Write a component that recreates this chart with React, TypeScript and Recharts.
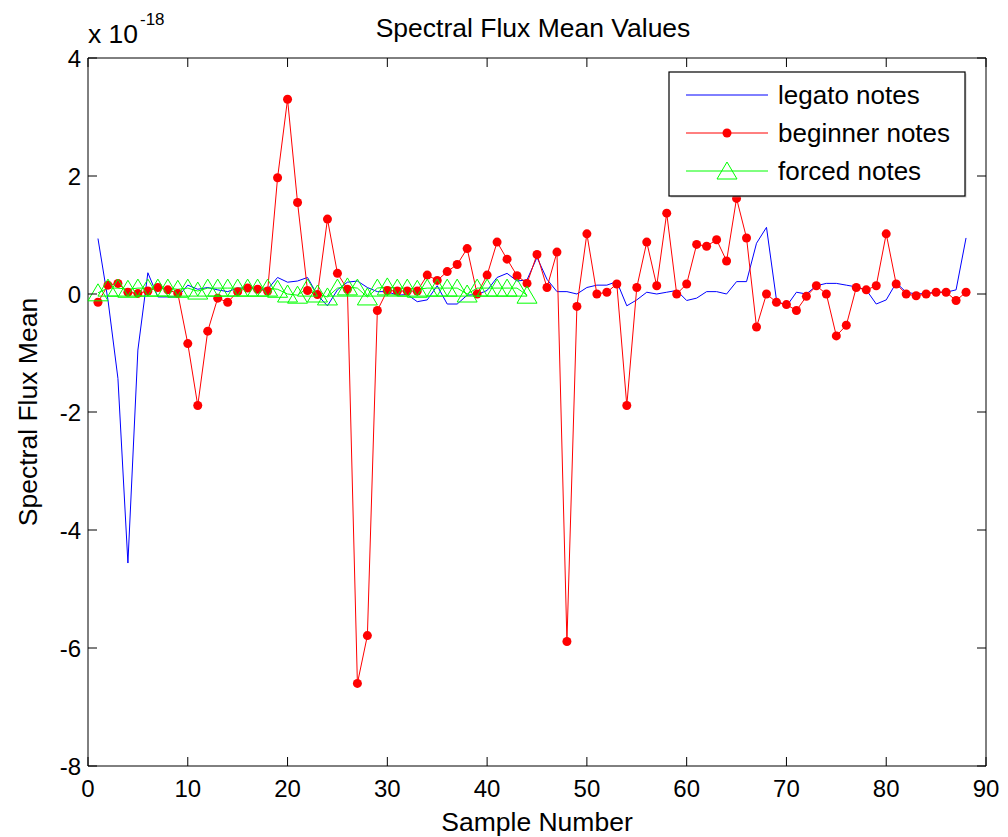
import { LineChart, Line, XAxis, YAxis, ReferenceLine } from 'recharts'

const W = 1008
const H = 837
const PLOT = { left: 88, top: 58, right: 986, bottom: 766 }
const FONT = '"Liberation Sans", Arial, sans-serif'

const xTicks = [0, 10, 20, 30, 40, 50, 60, 70, 80, 90]
const yTicks = [-8, -6, -4, -2, 0, 2, 4]

// values are x 10^-18
const legato = [
    0.94, -0.1, -1.43, -4.56, -0.95, 0.36, -0.05, -0.05, -0.05, 0.15,
    0.08, 0.11, 0.07, 0.04, 0.1, 0.1, 0.08, 0.08, 0.28, 0.2,
    0.22, 0.28, -0.02, -0.2, 0.07, 0.2, 0.22, 0.11, 0.04, 0.04,
    -0.02, -0.01, -0.13, -0.1, 0.14, -0.17, -0.17, -0.02, -0.01, 0.06,
    0.28, 0.35, 0.22, 0.24, 0.62, 0.25, 0.04, 0.04, 0.0, 0.11,
    0.15, 0.15, 0.21, -0.2, -0.1, 0.03, 0.0, 0.03, 0.06, -0.11,
    -0.07, 0.04, 0.04, 0.0, 0.21, 0.21, 0.86, 1.13, -0.1, -0.21,
    0.03, 0.0, 0.14, 0.18, 0.18, 0.15, 0.12, 0.07, -0.17, -0.1,
    0.19, 0.03, 0.0, 0.01, 0.03, 0.03, 0.07, 0.95,
]

const beginner = [
    -0.14, 0.15, 0.18, 0.03, 0.01, 0.05, 0.11, 0.07, 0.01, -0.84,
    -1.89, -0.63, -0.07, -0.14, 0.04, 0.1, 0.08, 0.05, 1.97, 3.3,
    1.55, 0.06, -0.01, 1.27, 0.35, 0.08, -6.6, -5.79, -0.28, 0.06,
    0.05, 0.05, 0.05, 0.32, 0.23, 0.38, 0.5, 0.77, 0.0, 0.32,
    0.88, 0.59, 0.31, 0.18, 0.67, 0.11, 0.71, -5.89, -0.21, 1.02,
    0.0, 0.03, 0.17, -1.89, 0.11, 0.88, 0.14, 1.37, 0.0, 0.17,
    0.84, 0.81, 0.92, 0.56, 1.62, 0.95, -0.56, 0.0, -0.14, -0.18,
    -0.28, -0.04, 0.14, 0.0, -0.71, -0.53, 0.11, 0.07, 0.14, 1.02,
    0.17, 0.0, -0.03, 0.0, 0.03, 0.03, -0.11, 0.03,
]

const forced = [
    0.02, 0.1, 0.1, 0.08, 0.1, 0.1, 0.1, 0.1, 0.08, 0.1,
    0.05, 0.1, 0.1, 0.1, 0.1, 0.1, 0.1, 0.1, 0.08, 0.0,
    -0.02, 0.1, 0.0, -0.05, 0.1, 0.12, 0.1, -0.05, 0.1, 0.12,
    0.1, 0.1, 0.08, 0.1, 0.1, 0.1, 0.1, 0.0, 0.1, 0.1,
    0.1, 0.1, 0.1, -0.02,
]

const data = legato.map((v, i) => ({
    x: i + 1,
    legato: v,
    beginner: beginner[i],
    forced: i < forced.length ? forced[i] : undefined,
}))

const TICK_LEN = 9

function XTick(props: any) {
    const cx = props.payload.coordinate
    return (
        <g>
            <line x1={cx} x2={cx} y1={PLOT.bottom} y2={PLOT.bottom - TICK_LEN} stroke="#000" />
            <line x1={cx} x2={cx} y1={PLOT.top} y2={PLOT.top + TICK_LEN} stroke="#000" />
            <text x={cx} y={PLOT.bottom + 31} textAnchor="middle" fontSize={24} fontFamily={FONT} fill="#000">
                {props.payload.value}
            </text>
        </g>
    )
}

function YTick(props: any) {
    const cy = props.payload.coordinate
    return (
        <g>
            <line x1={PLOT.left} x2={PLOT.left + TICK_LEN} y1={cy} y2={cy} stroke="#000" />
            <line x1={PLOT.right} x2={PLOT.right - TICK_LEN} y1={cy} y2={cy} stroke="#000" />
            <text x={PLOT.left - 7} y={cy + 8.5} textAnchor="end" fontSize={24} fontFamily={FONT} fill="#000">
                {props.payload.value}
            </text>
        </g>
    )
}

function triangle(cx: number, cy: number) {
    return `${cx},${cy - 9} ${cx - 10},${cy + 8} ${cx + 10},${cy + 8}`
}

function TriangleDot(props: any) {
    const { cx, cy, index } = props
    if (cx == null || cy == null || props.value == null) return <g key={index} />
    return <polygon key={index} points={triangle(cx, cy)} fill="none" stroke="#00ff00" strokeWidth={1} />
}

function Legend() {
    const rows = [
        { label: 'legato notes', color: '#0000ff', marker: 'none' },
        { label: 'beginner notes', color: '#ff0000', marker: 'dot' },
        { label: 'forced notes', color: '#00ff00', marker: 'tri' },
    ]
    const lx = 669
    const ly = 72
    return (
        <g>
            <rect x={lx + 1.5} y={ly + 1.5} width={296} height={124} fill="#999" opacity={0.5} />
            <rect x={lx} y={ly} width={296} height={124} fill="#fff" stroke="#000" strokeWidth={1.2} />
            {rows.map((r, i) => {
                const y = ly + 23 + i * 38
                return (
                    <g key={r.label}>
                        <line x1={686} x2={768} y1={y} y2={y} stroke={r.color} strokeWidth={1} />
                        {r.marker === 'dot' && <circle cx={727} cy={y} r={4.5} fill="#ff0000" />}
                        {r.marker === 'tri' && (
                            <polygon points={triangle(727, y)} fill="none" stroke="#00ff00" />
                        )}
                        <text x={778} y={y + 9} fontSize={26} fontFamily={FONT} fill="#000">
                            {r.label}
                        </text>
                    </g>
                )
            })}
        </g>
    )
}

export default function App() {
    return (
        <div style={{ position: 'absolute', left: 0, top: 0, width: W, height: H, background: '#fff' }}>
            <LineChart
                width={W}
                height={H}
                data={data}
                margin={{ top: PLOT.top, right: W - PLOT.right, bottom: H - PLOT.bottom - 30, left: PLOT.left - 60 }}
            >
                <XAxis
                    dataKey="x"
                    type="number"
                    domain={[0, 90]}
                    ticks={xTicks}
                    height={30}
                    tickLine={false}
                    axisLine={{ stroke: '#000' }}
                    tick={<XTick />}
                    interval={0}
                />
                <YAxis
                    type="number"
                    domain={[-8, 4]}
                    ticks={yTicks}
                    width={60}
                    tickLine={false}
                    axisLine={{ stroke: '#000' }}
                    tick={<YTick />}
                    interval={0}
                    allowDataOverflow
                />
                <ReferenceLine y={4} stroke="#000" />
                <ReferenceLine x={90} stroke="#000" />
                <Line
                    dataKey="legato"
                    stroke="#0000ff"
                    strokeWidth={1}
                    dot={false}
                    isAnimationActive={false}
                />
                <Line
                    dataKey="beginner"
                    stroke="#ff0000"
                    strokeWidth={1}
                    dot={{ r: 4.5, fill: '#ff0000', stroke: 'none' }}
                    isAnimationActive={false}
                />
                <Line
                    dataKey="forced"
                    stroke="#00ff00"
                    strokeWidth={1}
                    dot={TriangleDot}
                    isAnimationActive={false}
                />
            </LineChart>
            <svg width={W} height={H} style={{ position: 'absolute', left: 0, top: 0, pointerEvents: 'none' }}>
                <text x={533} y={37} textAnchor="middle" fontSize={26.5} fontFamily={FONT} fill="#000">
                    Spectral Flux Mean Values
                </text>
                <text x={88} y={43} fontSize={26.5} fontFamily={FONT} fill="#000">x 10</text>
                <text x={140} y={25} fontSize={17} fontFamily={FONT} fill="#000">-18</text>
                <text x={537} y={831} textAnchor="middle" fontSize={26.5} fontFamily={FONT} fill="#000">
                    Sample Number
                </text>
                <text
                    transform="translate(37, 412) rotate(-90)"
                    textAnchor="middle"
                    fontSize={26.5}
                    fontFamily={FONT}
                    fill="#000"
                >
                    Spectral Flux Mean
                </text>
                <Legend />
            </svg>
        </div>
    )
}
